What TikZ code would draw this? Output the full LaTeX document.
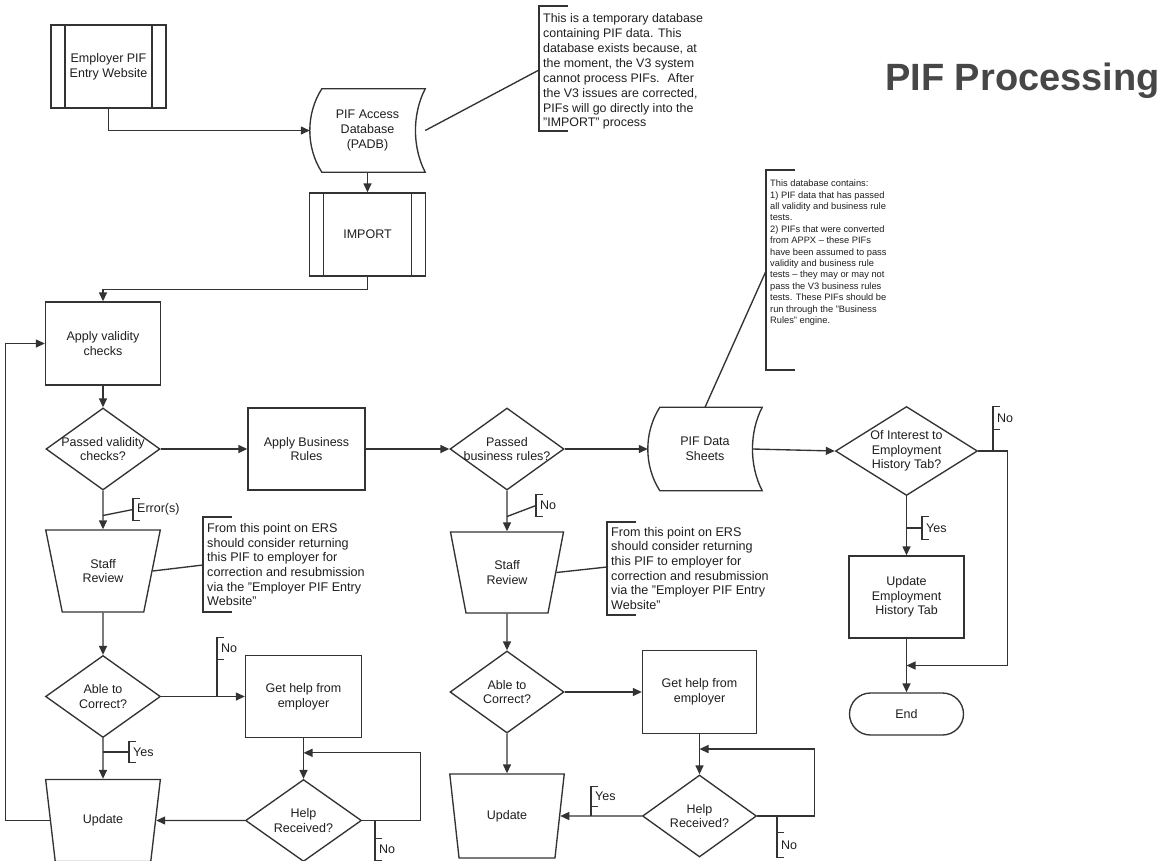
\documentclass[tikz,border=0pt]{standalone}
\usepackage{fontspec}
\setmainfont{Liberation Sans}
\usetikzlibrary{arrows.meta,shapes.geometric,calc}
\definecolor{lncol}{HTML}{333333}
\definecolor{txcol}{HTML}{1F1F1F}
\definecolor{ttlcol}{HTML}{474747}
% stored-data outline drawn around a plain rectangular node
\newcommand\storepath[1]{%
  \draw[ln] ($(#1.north west)+(12,0)$) -- (#1.north east)
    .. controls ($(#1.north east)+(-13,25)$) and ($(#1.south east)+(-13,-25)$) .. (#1.south east)
    -- ($(#1.south west)+(12,0)$)
    .. controls ($(#1.south west)+(-4,-25)$) and ($(#1.north west)+(-4,25)$) .. cycle;}
% open bracket in front of an annotation (#2 = bracket length)
\newcommand\annbrk[2]{%
  \draw[brk] ([xshift=29pt]#1.north west) -- (#1.north west) -- ++(0,#2) -- ++(29,0);}
% small open bracket in front of a branch label
\newcommand\lblbrk[1]{%
  \draw[brk] ([xshift=7pt]#1.north west) -- (#1.north west) -- (#1.south west) -- ([xshift=7pt]#1.south west);}
\begin{document}
\begin{tikzpicture}[x=1pt,y=-1pt,
  every node/.style={text=txcol, inner sep=0pt, font=\fontsize{12.5}{14.7}\selectfont},
  ln/.style={draw=lncol, line width=1.35pt},
  brk/.style={draw=lncol, line width=1.1pt},
  arr/.style={ln, -{Triangle[length=9pt,width=8pt]}},
  box/.style={ln, rectangle, align=center},
  proc/.style={box, path picture={\draw[draw=lncol, line width=1.35pt]
      ([xshift=14pt]path picture bounding box.north west) -- ([xshift=14pt]path picture bounding box.south west)
      ([xshift=-14pt]path picture bounding box.north east) -- ([xshift=-14pt]path picture bounding box.south east);}},
  store/.style={rectangle, align=center},
  dia/.style={ln, diamond},
  dtext/.style={align=center},
  trap/.style={ln, trapezium, trapezium stretches=true, shape border rotate=180, align=center},
  term/.style={ln, rectangle, rounded corners=21pt, minimum width=114pt, minimum height=42pt},
  lbl/.style={anchor=west, inner xsep=4pt},
  ann/.style={anchor=north west, align=left, inner xsep=4pt},
]
\useasboundingbox (0,0) rectangle (1164,860);
\fill[white] (0,0) rectangle (1164,860);

% ---------- title ----------
\node[anchor=base east, font=\fontsize{38}{40}\selectfont\bfseries, text=ttlcol] (title) at (1160,90) {PIF Processing};

% ---------- intake ----------
\node[proc, minimum width=115pt, minimum height=83pt] (emp) at (108.5,66.5) {Employer PIF\\Entry Website};
\node[store, minimum width=115pt, minimum height=83pt] (padb) at (367.5,130.5) {PIF Access\\Database\\(PADB)};
\storepath{padb}
\node[proc, minimum width=116pt, minimum height=83pt] (imp) at (367.5,234.5) {IMPORT};

% ---------- validity ----------
\node[box, minimum width=115pt, minimum height=83pt] (avc) at (103,343.5) {Apply validity\\checks};
\node[dia, minimum width=114pt, minimum height=82pt] (pv) at (103,449) {};
\node[dtext] (pvt) at (pv) {Passed validity\\checks?};
\node[box, minimum width=117pt, minimum height=82pt] (abr) at (306.5,449) {Apply Business\\Rules};
\node[dia, minimum width=114pt, minimum height=82pt] (pbr) at (507,449) {};
\node[dtext] (pbrt) at (pbr) {Passed\\business rules?};
\node[store, minimum width=114pt, minimum height=83pt] (pds) at (705,449) {PIF Data\\Sheets};
\storepath{pds}
\coordinate (pdsout) at ($(pds.east)+(-9.75,0)$);
\node[dia, minimum width=142pt, minimum height=89pt] (oi) at (906.5,451) {};
\node[dtext] (oit) at (oi) {Of Interest to\\Employment\\History Tab?};
\node[box, minimum width=115pt, minimum height=82pt] (ueh) at (906.5,597) {Update\\Employment\\History Tab};
\node[term] (end) at (906.5,714) {End};

% ---------- left review branch ----------
\node[trap, trapezium angle=70.8, minimum width=115pt, minimum height=82pt] (sr1) at (103,571) {Staff\\Review};
\node[dia, minimum width=115pt, minimum height=82pt] (ac1) at (103,696.5) {};
\node[dtext] (ac1t) at (ac1) {Able to\\Correct?};
\node[box, minimum width=116pt, minimum height=82pt] (gh1) at (303.5,696.5) {Get help from\\employer};
\node[trap, trapezium angle=70.8, minimum width=115pt, minimum height=82pt] (upd1) at (103,820.5) {Update};
\node[dia, minimum width=116pt, minimum height=82pt] (hr1) at (303.5,820.5) {};
\node[dtext] (hr1t) at (hr1) {Help\\Received?};

% ---------- middle review branch ----------
\node[trap, trapezium angle=72, minimum width=113pt, minimum height=81pt] (sr2) at (507,572.5) {Staff\\Review};
\node[dia, minimum width=114pt, minimum height=82pt] (ac2) at (507,692) {};
\node[dtext] (ac2t) at (ac2) {Able to\\Correct?};
\node[box, minimum width=114pt, minimum height=83pt] (gh2) at (699.5,692) {Get help from\\employer};
\node[trap, trapezium angle=71.5, minimum width=115pt, minimum height=84pt] (upd2) at (507,816) {Update};
\node[dia, minimum width=114pt, minimum height=82pt] (hr2) at (699.5,816) {};
\node[dtext] (hr2t) at (hr2) {Help\\Received?};

% ---------- connectors ----------
\draw[arr] (emp.south) |- (padb.west);
\draw[arr] (padb.south) -- (imp.north);
\draw[arr] (imp.south) -- ++(0,13) -| (avc.north);
\draw[arr] (avc.south) -- (pv.north);
\draw[arr] (pv.east) -- (abr.west);
\draw[arr] (abr.east) -- (pbr.west);
\draw[arr] (pbr.east) -- (pds.west);
\draw[arr] (pdsout) -- (oi.west);
\draw[arr] (oi.south) -- (ueh.north);
\draw[arr] (ueh.south) -- (end.north);
\coordinate (endin) at ($(ueh.south)!0.5!(end.north)$);
\draw[arr] (oi.east) -- ++(29.5,0) |- (endin);

\draw[arr] (pv.south) -- (sr1.north);
\draw[arr] (sr1.south) -- (ac1.north);
\draw[arr] (ac1.east) -- (gh1.west);
\draw[arr] (ac1.south) -- (upd1.north);
\draw[arr] (gh1.south) -- (hr1.north);
\coordinate (hr1in) at ($(gh1.south)!0.36!(hr1.north)$);
\draw[arr] (hr1.east) -- ++(58,0) |- (hr1in);
\draw[arr] (hr1) -- (upd1);
\draw[arr] (upd1.180) -- ++(-44,0) |- (avc.west);

\draw[arr] (pbr.south) -- (sr2.north);
\draw[arr] (sr2.south) -- (ac2.north);
\draw[arr] (ac2.east) -- (gh2.west);
\draw[arr] (ac2.south) -- (upd2.north);
\draw[arr] (gh2.south) -- (hr2.north);
\coordinate (hr2in) at ($(gh2.south)!0.37!(hr2.north)$);
\draw[arr] (hr2.east) -- ++(57,0) |- (hr2in);
\draw[arr] (hr2) -- (upd2);

% ---------- branch labels ----------
\node[lbl, minimum height=21pt] (lE) at (133,509.5) {Error(s)};
\lblbrk{lE}
\draw[ln] (lE.west) -- ([yshift=-6pt]lE.west -| pv.south);
\node[lbl, minimum height=21pt] (lN2) at (536,505.5) {No};
\lblbrk{lN2}
\draw[ln] (lN2.west) -- ([yshift=-11pt]lN2.west -| pbr.south);
\node[lbl, minimum height=21pt] (lN1) at (217,648.5) {No};
\lblbrk{lN1}
\draw[ln] (lN1.south west) -- (lN1.south west |- ac1.east);
\node[lbl, minimum height=20pt] (lY1) at (129,752) {Yes};
\lblbrk{lY1}
\draw[ln] (lY1.west) -- (lY1.west -| ac1.south);
\node[lbl, minimum height=21pt] (lN3) at (375,849.5) {No};
\lblbrk{lN3}
\draw[ln] (lN3.north west) -- (lN3.north west |- hr1.east);
\node[lbl, minimum height=19pt] (lY2) at (591,796.5) {Yes};
\lblbrk{lY2}
\draw[ln] (lY2.south west) -- (lY2.south west |- hr2.west);
\node[lbl, minimum height=24pt] (lN4) at (777,845) {No};
\lblbrk{lN4}
\draw[ln] (lN4.north west) -- (lN4.north west |- hr2.east);
\node[lbl, minimum height=22pt] (lN5) at (993,418) {No};
\lblbrk{lN5}
\draw[ln] (lN5.south west) -- (lN5.south west |- oi.east);
\node[lbl, minimum height=22pt] (lY3) at (922,528) {Yes};
\lblbrk{lY3}
\draw[ln] (lY3.west) -- (lY3.west -| oi.south);

% ---------- annotations ----------
\node[ann, inner ysep=7.5pt, font=\fontsize{12.4}{14.9}\selectfont] (a1) at (539,6)
  {This is a temporary database\\containing PIF data. This\\database exists because, at\\the moment, the V3 system\\cannot process PIFs.~ After\\the V3 issues are corrected,\\PIFs will go directly into the\\"IMPORT" process};
\annbrk{a1}{125}
\draw[ln] (padb.east) -- ([yshift=-64pt]a1.north west);

\node[ann, inner ysep=9.7pt, font=\fontsize{9.3}{11.4}\selectfont] (a3) at (766,170)
  {This database contains:\\1) PIF data that has passed\\all validity and business rule\\tests.\\2) PIFs that were converted\\from APPX – these PIFs\\have been assumed to pass\\validity and business rule\\tests – they may or may not\\pass the V3 business rules\\tests. These PIFs should be\\run through the "Business\\Rules" engine.};
\annbrk{a3}{200}
\draw[ln] (pds.north) -- ([yshift=-101pt]a3.north west);

\node[ann, inner ysep=6.3pt, font=\fontsize{12.6}{14.6}\selectfont] (a2L) at (203,517)
  {From this point on ERS\\should consider returning\\this PIF to employer for\\correction and resubmission\\via the "Employer PIF Entry\\Website"};
\annbrk{a2L}{95}
\draw[ln] (sr1.0) -- ([yshift=-48pt]a2L.north west);

\node[ann, inner ysep=5pt, font=\fontsize{12.6}{14.6}\selectfont] (a2M) at (607,522)
  {From this point on ERS\\should consider returning\\this PIF to employer for\\correction and resubmission\\via the "Employer PIF Entry\\Website"};
\annbrk{a2M}{93}
\draw[ln] (sr2.0) -- ([yshift=-45pt]a2M.north west);
\end{tikzpicture}
\end{document}
